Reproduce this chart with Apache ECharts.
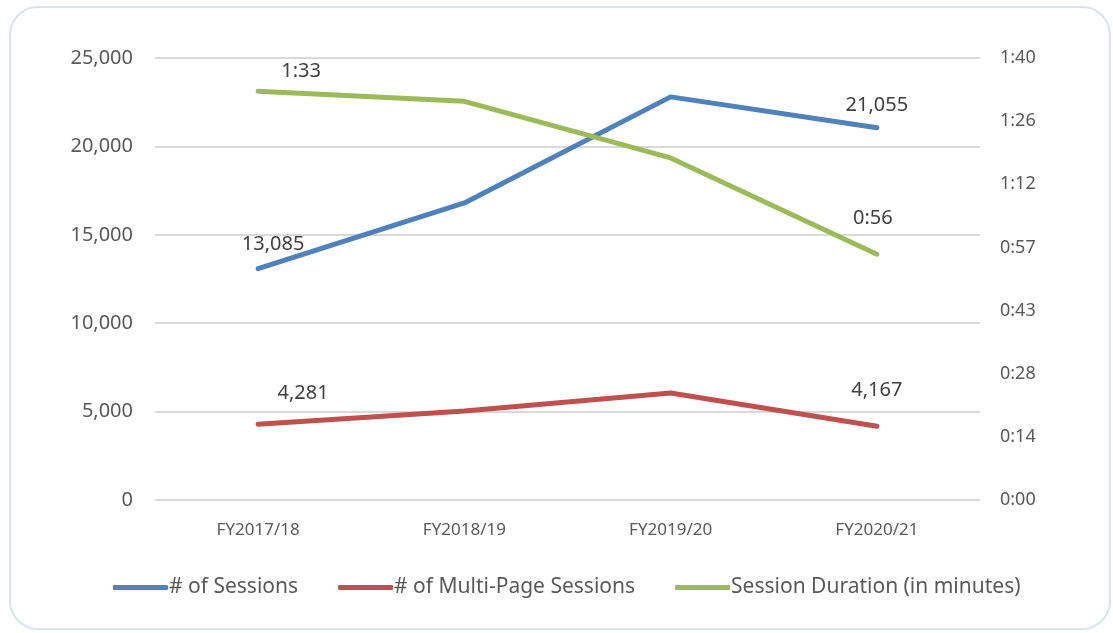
<!DOCTYPE html>
<html>
<head>
<meta charset="utf-8">
<script src="https://cdn.jsdelivr.net/npm/echarts@6/dist/echarts.min.js"></script>
<style>
  html, body { margin: 0; padding: 0; background: #fff; }
  #main { width: 1113px; height: 633px; }
</style>
</head>
<body>
<div id="main"></div>
<script>
// 数据
var categories = ['FY2017/18', 'FY2018/19', 'FY2019/20', 'FY2020/21'];
var sessions = [13085, 16800, 22800, 21055];
var multiPage = [4281, 5030, 6050, 4167];
var durationSec = [92.5, 90.2, 77.4, 55.6]; // seconds
var durationTicks = ['0:00', '0:14', '0:28', '0:43', '0:57', '1:12', '1:26', '1:40'];
var seriesNames = ['# of Sessions', '# of Multi-Page Sessions', 'Session Duration (in minutes)'];

var txt = '#595959', lbl = '#404040', font = 'Noto Sans';

function fmtNum(v){ return v.toLocaleString('en-US'); }
function fmtTime(s){
  s = Math.round(s);
  var m = Math.floor(s / 60), r = s % 60;
  return m + ':' + (r < 10 ? '0' : '') + r;
}

// 只标首尾两个点
function edgeLabels(arr, fmt, offs){
  return arr.map(function(v, i){
    if (i === 0 || i === arr.length - 1) {
      var o = i === 0 ? offs[0] : offs[1];
      return {value: v, label: {show: true, position: 'top', offset: o,
        formatter: function(p){ return fmt(p.value); }}};
    }
    return v;
  });
}

function lineSeries(name, axis, data, color){
  return {
    name: name, type: 'line', yAxisIndex: axis, data: data,
    symbol: 'circle', symbolSize: 0.1, showSymbol: true, color: color,
    lineStyle: {width: 5, cap: 'round'},
    label: {color: lbl, fontSize: 20, fontFamily: font}
  };
}

var chart = echarts.init(document.getElementById('main'));
chart.setOption({
  animation: false,
  graphic: [{
    type: 'rect', z: -10,
    shape: {x: 10, y: 7, width: 1100, height: 622, r: 28},
    style: {fill: '#fff', stroke: '#dae3f2', lineWidth: 2}
  }],
  grid: {left: 155, right: 133, top: 58, bottom: 133},
  legend: {
    bottom: 30, left: 108,
    itemWidth: 55, itemHeight: 5, itemGap: 40,
    icon: 'roundRect',
    textStyle: {color: txt, fontSize: 21, fontFamily: font, padding: [0, 0, 0, -4]},
    data: seriesNames
  },
  xAxis: {
    type: 'category', data: categories,
    axisLine: {show: false}, axisTick: {show: false},
    axisLabel: {color: txt, fontSize: 17, fontFamily: font, margin: 22}
  },
  yAxis: [{
    type: 'value', min: 0, max: 25000, interval: 5000,
    axisLine: {show: false}, axisTick: {show: false},
    splitLine: {lineStyle: {color: '#d9d9d9', width: 2}},
    axisLabel: {color: txt, fontSize: 20, fontFamily: font, margin: 22,
      formatter: function(v){ return fmtNum(v); }}
  }, {
    type: 'value', min: 0, max: 100, interval: 100 / 7,
    axisLine: {show: false}, axisTick: {show: false}, splitLine: {show: false},
    axisLabel: {color: txt, fontSize: 18, fontFamily: font, margin: 20,
      formatter: function(v){ return durationTicks[Math.round(v / (100 / 7))]; }}
  }],
  series: [
    lineSeries(seriesNames[0], 0, edgeLabels(sessions, fmtNum, [[15, -9], [0, -7]]), '#4f81bd'),
    lineSeries(seriesNames[1], 0, edgeLabels(multiPage, fmtNum, [[45, -16], [0, -21]]), '#c0504d'),
    lineSeries(seriesNames[2], 1, edgeLabels(durationSec, fmtTime, [[43, -5], [-4, -21]]), '#9bbb59')
  ]
});
</script>
</body>
</html>
